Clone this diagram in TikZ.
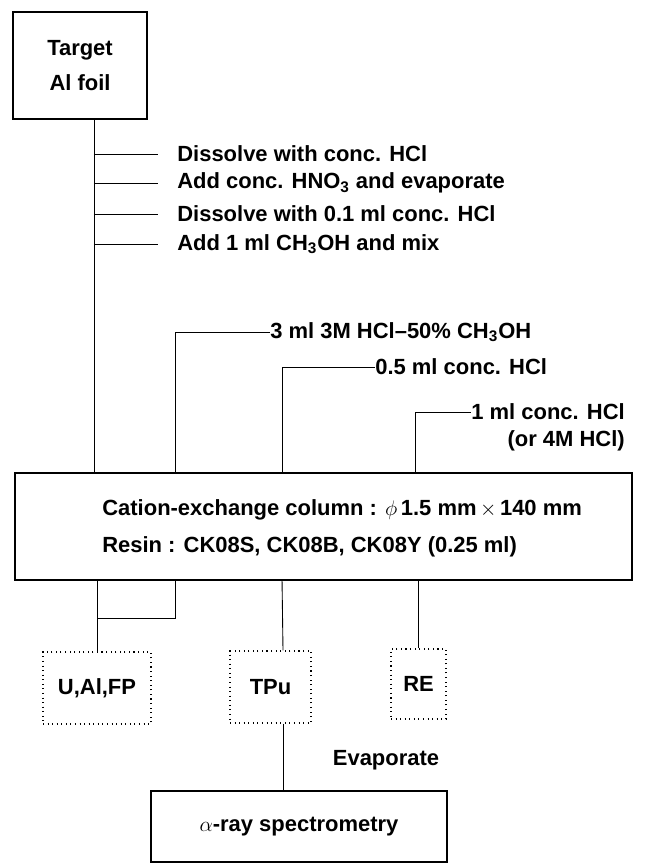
\documentclass[tikz,border=0pt]{standalone}
\usepackage{fontspec}
\setmainfont{Liberation Sans}
\usetikzlibrary{positioning, calc}

\begin{document}
\begin{tikzpicture}[x=0.02cm, y=-0.02cm,
        every node/.style={font=\fontsize{12.5}{15}\selectfont\bfseries},
        mainbox/.style={rectangle, draw, line width=1.1pt, align=center},
        fracbox/.style={rectangle, draw, dotted, line width=0.6pt, align=center},
        steplabel/.style={anchor=west, inner sep=0pt},
        flowline/.style={line width=0.5pt}
    ]
        \useasboundingbox (0,0) rectangle (669,864);
        \node[mainbox, minimum width=2.68cm, minimum height=2.14cm] (target) at (80,65.5) {Target\\[5pt] Al foil};
        \node[steplabel] (dissolve) at (177,154) {Dissolve with conc. HCl};
        \node[steplabel] (nitric) at (177,183) {Add conc. HNO\textsubscript{3} and evaporate};
        \node[steplabel] (redissolve) at (177,214) {Dissolve with 0.1 ml conc. HCl};
        \node[steplabel] (methanol) at (177,244) {Add 1 ml CH\textsubscript{3}OH and mix};
        \node[steplabel] (wash) at (270,332) {3 ml 3M HCl--50\% CH\textsubscript{3}OH};
        \node[steplabel] (tpuelu) at (375,367) {0.5 ml conc. HCl};
        \node[steplabel] (reelu) at (471,412) {1 ml conc. HCl};
        \node[below left=0.2cm and 0pt of reelu.south east, inner sep=0pt] (acidnote) {(or 4M HCl)};
        \node[mainbox, minimum width=12.34cm, minimum height=2.14cm] (column) at (323.5,526.5) {};
        \node[steplabel, align=left] (columntext) at (102,528) {Cation-exchange column : $\phi$\,1.5 mm$\,\times\,$140 mm\\[6pt] Resin : CK08S, CK08B, CK08Y (0.25 ml)};
        \node[fracbox, minimum width=2.16cm, minimum height=1.44cm] (uafp) at (97,688) {U,Al,FP};
        \node[fracbox, minimum width=1.62cm, minimum height=1.44cm] (tpu) at (270.5,687) {TPu};
        \node[fracbox, minimum width=1.1cm, minimum height=1.4cm] (re) at (418.5,684) {RE};
        \node (evap) at (386,760) {Evaporate};
        \node[mainbox, minimum width=5.92cm, minimum height=1.42cm] (alpha) at (299,826.5) {$\alpha$-ray spectrometry};
        % feed line and treatment steps
        \coordinate (trunk) at ([xshift=0.28cm]target.south);
        \draw[flowline] (trunk) -- (trunk |- column.north);
        \foreach \s in {dissolve,nitric,redissolve,methanol}
            \draw[flowline, shorten >=0.38cm] (trunk |- \s.west) -- (\s.west);
        % eluents
        \draw[flowline] ([xshift=3.22cm]column.north west) |- (wash.west);
        \draw[flowline] ([xshift=5.36cm]column.north west) |- (tpuelu.west);
        \draw[flowline] ([xshift=8.02cm]column.north west) |- (reelu.west);
        % fractions
        \draw[flowline] (uafp.north |- column.south) -- (uafp.north);
        \draw[flowline] ([xshift=3.22cm]column.south west) |- ($(uafp.north |- column.south)+(0,37)$);
        \draw[flowline] ([xshift=5.36cm]column.south west) -- ([xshift=0.25cm]tpu.north);
        \draw[flowline] (re.north |- column.south) -- (re.north);
        \draw[flowline] ([xshift=0.25cm]tpu.south) -- ([xshift=0.25cm]tpu.south |- alpha.north);
    \end{tikzpicture}
\end{document}
